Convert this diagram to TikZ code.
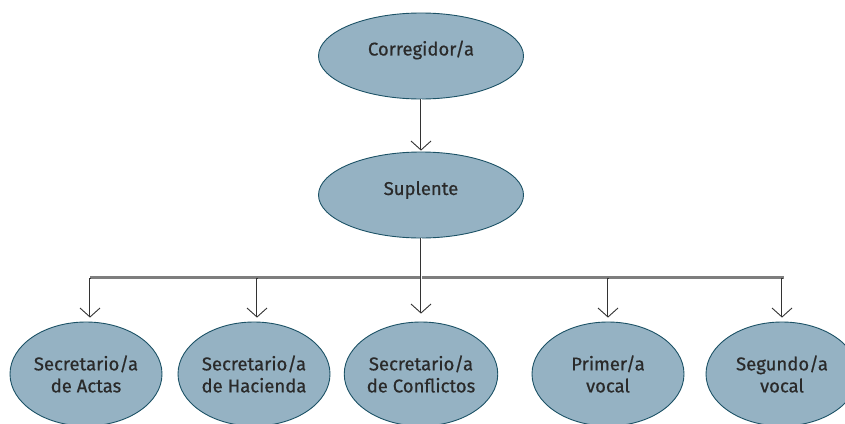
\documentclass[tikz,border=0pt]{standalone}
\usepackage{fontspec}
\setmainfont{Fira Sans}
\newfontfamily\lblfont{Fira Sans}[FakeBold=0.6]
\usetikzlibrary{calc,shapes.geometric}
\definecolor{fillb}{HTML}{95B2C3}
\definecolor{edgeb}{HTML}{1C5266}
\definecolor{txt}{HTML}{2A2A2A}
\definecolor{shaft}{HTML}{333333}
\definecolor{barc}{HTML}{7E7E7E}
\begin{document}
\begin{tikzpicture}[x=1pt,y=-1pt,
  oval/.style={ellipse, draw=edgeb, line width=0.9pt, fill=fillb, text=txt,
    font=\lblfont\fontsize{18.5}{22}\selectfont, align=center, inner sep=0pt},
  topoval/.style={oval, minimum width=205pt, minimum height=86pt},
  lowoval/.style={oval, minimum width=152pt, minimum height=104pt},
  lbl/.style={text=txt, font=\lblfont\fontsize{18.5}{22}\selectfont, inner sep=0pt},
  outer/.style={draw=shaft, line width=2.8pt},
  inner/.style={draw=white, line width=1.0pt},
  vhead/.style={draw=shaft, line width=0.9pt},
  barline/.style={draw=barc, line width=3pt}]
\useasboundingbox (0,0) rectangle (845,423);
\begin{scope}
\clip (0,0) rectangle (845,423);
\node[topoval] (cor) at (421,56) {};
\node[lbl] (cort) at (421,50) {Corregidor/a};
\node[topoval] (sup) at (421,195) {};
\node[lbl] (supt) at (421,190) {Suplente};
\node[lowoval] (s1) at (86,374) {Secretario/a\\de Actas};
\node[lowoval] (s2) at (254,374) {Secretario/a\\de Hacienda};
\node[lowoval] (s3) at (421,374) {Secretario/a\\de Conflictos};
\node[lowoval] (s4) at (608,374) {Primer/a\\vocal};
\node[lowoval] (s5) at (782,374) {Segundo/a\\vocal};
\end{scope}
% bar
\coordinate (bl) at (90,277.5);
\coordinate (br) at (784,277.5);
\draw[barline] (bl) -- (br);
% tips
\coordinate (t0) at (421,150);
\coordinate (t3) at (421,313);
\foreach \i/\x in {1/90,2/257,4/608,5/782}{
  \coordinate (b\i) at (\x,277.5);
  \coordinate (t\i) at (\x,317);
}
% top arrow
\draw[outer] (cor.south) -- (t0);
\draw[inner] (cor.south) -- (t0);
\draw[vhead] ($(t0)+(-10,-9)$) -- (t0) -- ($(t0)+(10,-9)$);
% middle arrow
\draw[outer] (sup.south) -- (t3);
\draw[inner] (sup.south) -- (t3);
\draw[vhead] ($(t3)+(-10,-9)$) -- (t3) -- ($(t3)+(10,-9)$);
% side arrows
\foreach \i in {1,2,4,5}{
  \draw[outer] (b\i) -- (t\i);
  \draw[inner] ($(b\i)+(0,1.5)$) -- (t\i);
  \draw[vhead] ($(t\i)+(-10,-9)$) -- (t\i) -- ($(t\i)+(10,-9)$);
}
\end{tikzpicture}
\end{document}
